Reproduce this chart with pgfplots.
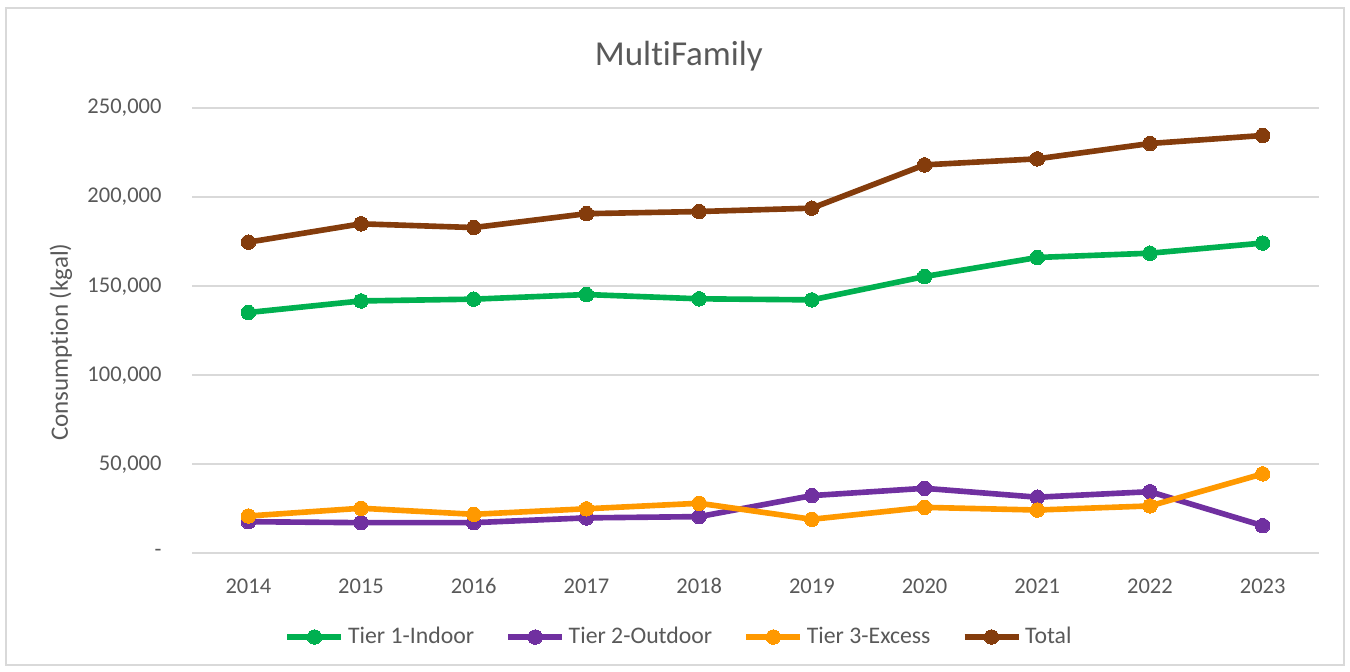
\documentclass[border=0pt]{standalone}
\usepackage{fontspec}
\setmainfont{Carlito}[Ligatures=NoCommon]
\usepackage{pgfplots}
\pgfplotsset{compat=1.18}
\definecolor{txt}{HTML}{595959}
\definecolor{gridc}{HTML}{D9D9D9}
\definecolor{cT1}{HTML}{00B050}
\definecolor{cT2}{HTML}{7030A0}
\definecolor{cT3}{HTML}{FF9900}
\definecolor{cTot}{HTML}{843C0C}
\begin{document}
\begin{tikzpicture}
\path[use as bounding box] (-76.8pt,-47.08pt) rectangle (463.2pt,221.32pt);
\draw[gridc, line width=0.75pt] (-74.4pt,-44.7pt) rectangle (460.8pt,218.1pt);
\begin{axis}[
  scale only axis,
  width=450.8pt, height=178.1pt,
  xmin=-0.5, xmax=9.5,
  ymin=0, ymax=250000,
  xtick={0,...,9},
  xticklabels={2014,2015,2016,2017,2018,2019,2020,2021,2022,2023},
  ytick={0,50000,100000,150000,200000,250000},
  yticklabels={{-\hspace{3.5pt}},{50,000},{100,000},{150,000},{200,000},{250,000}},
  scaled y ticks=false,
  ymajorgrids,
  grid style={gridc, line width=0.75pt},
  axis line style={draw=none},
  major tick length=0pt,
  tick label style={font=\fontsize{9}{10.8}\selectfont, text=txt},
  yticklabel style={anchor=east, inner sep=0pt, xshift=-12pt},
  xticklabel style={anchor=base, inner sep=0pt, yshift=-16pt},
  /pgf/number format/assume math mode=true,
  title={MultiFamily},
  title style={at={(axis description cs:0.432,1)}, anchor=base, yshift=11.2pt, font=\fontsize{14}{16.8}\selectfont, text=txt, inner sep=0pt},
  legend columns=4,
  legend style={at={(axis description cs:0.433,-0.188)}, anchor=center, draw=none, fill=none,
    font=\fontsize{9.5}{11}\selectfont, text=txt,
    nodes={inner xsep=1.5pt},
    /tikz/every odd column/.append style={column sep=0pt},
    /tikz/every even column/.append style={column sep=11pt}},
  legend image code/.code={
    \draw[mark repeat=2,mark phase=2,#1] plot coordinates {(0pt,0pt) (10.8pt,0pt) (21.6pt,0pt)};
  },
  every axis plot/.append style={line width=2.25pt, mark=*, mark size=2.9pt},
]
\addplot[color=cT1, mark options={fill=cT1, draw=cT1, line width=0pt}] coordinates {
 (0,135200) (1,141700) (2,142700) (3,145300) (4,142900) (5,142300) (6,155400) (7,166100) (8,168500) (9,174200)};
\addlegendentry{Tier 1-Indoor}
\addplot[color=cT2, mark options={fill=cT2, draw=cT2, line width=0pt}] coordinates {
 (0,17750) (1,17200) (2,17200) (3,19900) (4,20600) (5,32400) (6,36500) (7,31500) (8,34600) (9,15500)};
\addlegendentry{Tier 2-Outdoor}
\addplot[color=cT3, mark options={fill=cT3, draw=cT3, line width=0pt}] coordinates {
 (0,20950) (1,25300) (2,21900) (3,25000) (4,28100) (5,19100) (6,25800) (7,24300) (8,26600) (9,44600)};
\addlegendentry{Tier 3-Excess}
\addplot[color=cTot, mark options={fill=cTot, draw=cTot, line width=0pt}] coordinates {
 (0,174700) (1,185000) (2,182900) (3,190700) (4,191900) (5,193800) (6,218100) (7,221500) (8,230100) (9,234600)};
\addlegendentry{Total}
\end{axis}
\node[rotate=90, anchor=base, text=txt, font=\fontsize{10}{12}\selectfont, inner sep=0pt] at (-49.6pt,84.5pt) {Consumption (kgal)};
\end{tikzpicture}
\end{document}
